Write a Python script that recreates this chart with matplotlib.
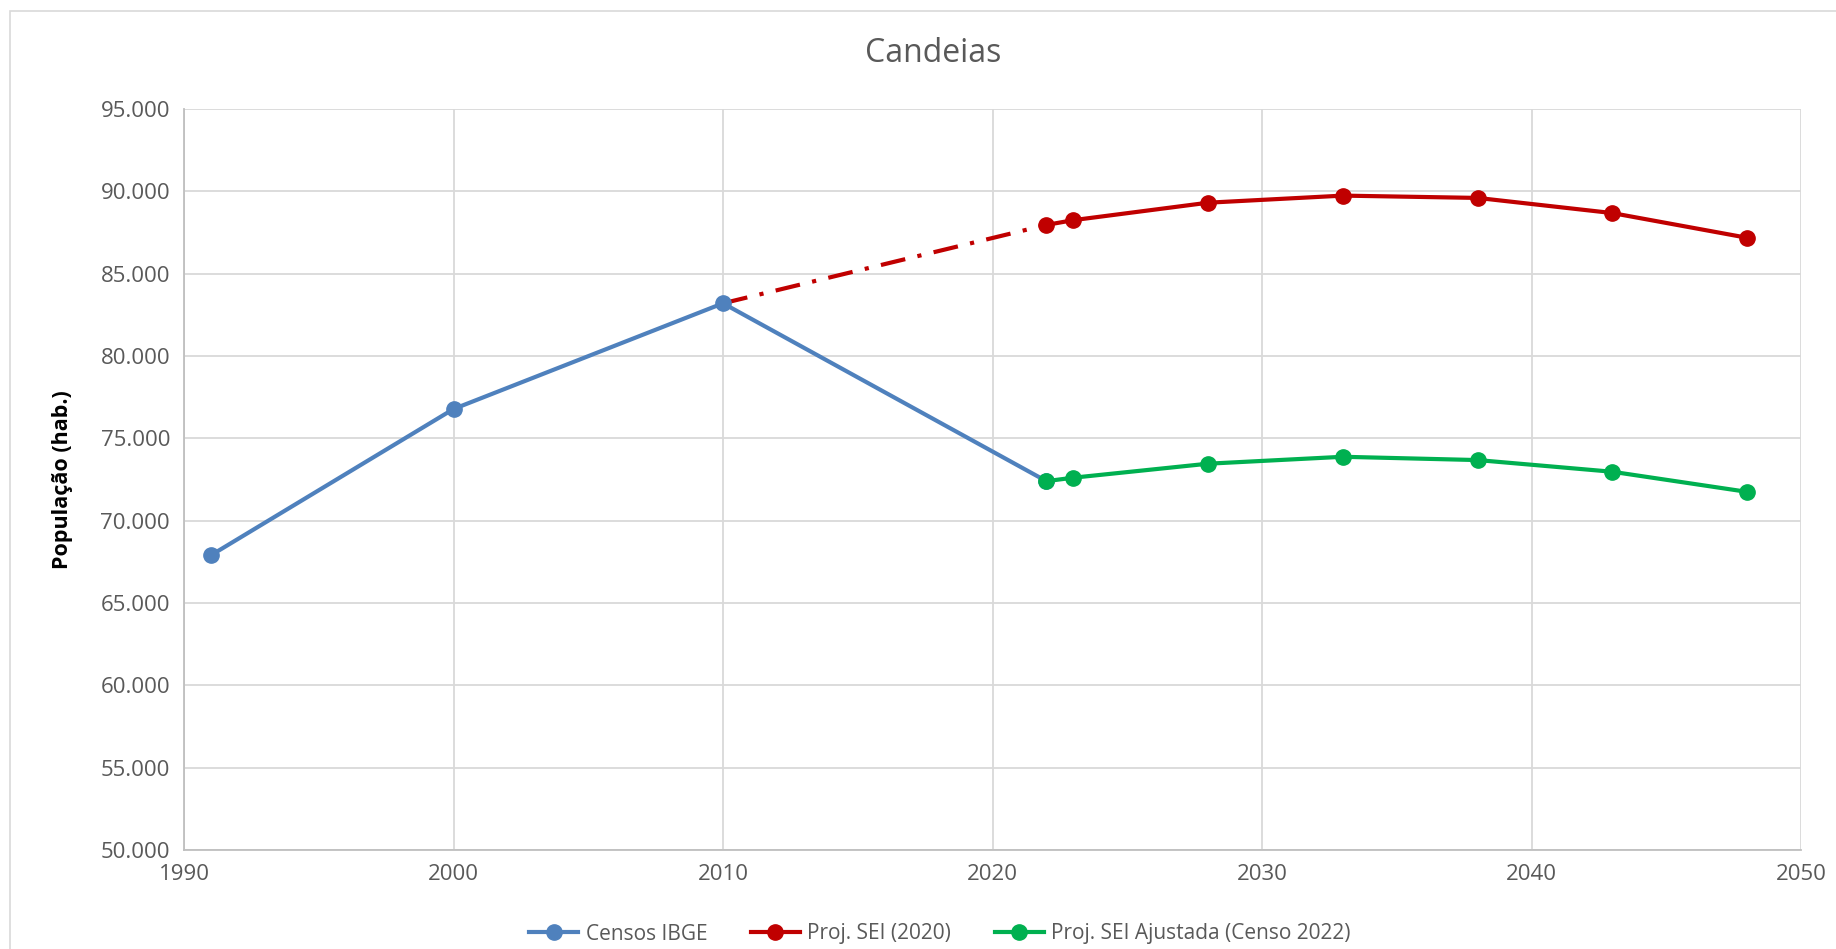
import matplotlib.pyplot as plt
from matplotlib.ticker import FuncFormatter, MultipleLocator
from matplotlib.patches import Rectangle

# data
censos_anos = [1991, 2000, 2010, 2022]
censos_pop = [67900, 76780, 83200, 72400]

proj_anos = [2022, 2023, 2028, 2033, 2038, 2043, 2048]
proj_pop = [87960, 88250, 89310, 89740, 89600, 88680, 87180]

ajust_anos = [2022, 2023, 2028, 2033, 2038, 2043, 2048]
ajust_pop = [72400, 72610, 73460, 73880, 73680, 72970, 71750]

# ligação tracejada entre o censo 2010 e a projeção 2022
ligacao_anos = [2010, 2022]
ligacao_pop = [83200, 87960]

azul = '#4F81BD'
vermelho = '#C00000'
verde = '#00B050'
cinza_txt = '#595959'
cinza_grade = '#D9D9D9'

plt.rcParams['font.family'] = ['Open Sans', 'DejaVu Sans']

fig = plt.figure(figsize=(18.36, 9.49), dpi=100)
W, H = 1836, 949
ax = fig.add_axes([184 / W, 1 - 850 / H, (1801 - 184) / W, (850 - 109) / H])

# moldura da área do gráfico
fig.patches.append(Rectangle((10 / W, -0.1), 1.2, 1 - 11 / H + 0.1,
                             transform=fig.transFigure, fill=False,
                             edgecolor='#D9D9D9', lw=1.2))

ax.plot(ligacao_anos, ligacao_pop, color=vermelho, lw=3,
        dashes=(6, 3, 1, 3), zorder=2)
ax.plot(censos_anos, censos_pop, color=azul, lw=3, marker='o',
        markersize=11, label='Censos IBGE', zorder=3)
ax.plot(proj_anos, proj_pop, color=vermelho, lw=3, marker='o',
        markersize=11, label='Proj. SEI (2020)', zorder=3)
ax.plot(ajust_anos, ajust_pop, color=verde, lw=3, marker='o',
        markersize=11, label='Proj. SEI Ajustada (Censo 2022)', zorder=4)

ax.set_xlim(1990, 2050)
ax.set_ylim(50000, 95000)
ax.xaxis.set_major_locator(MultipleLocator(10))
ax.yaxis.set_major_locator(MultipleLocator(5000))
ax.yaxis.set_major_formatter(FuncFormatter(lambda v, p: f'{int(v):,}'.replace(',', '.')))

ax.grid(True, color=cinza_grade, lw=1.3)
ax.set_axisbelow(True)
for s in ['top', 'right']:
    ax.spines[s].set_visible(False)
for s in ['left', 'bottom']:
    ax.spines[s].set_color('#BFBFBF')
    ax.spines[s].set_linewidth(1.3)
ax.tick_params(length=0, labelsize=16, labelcolor=cinza_txt, pad=10)

ax.set_ylabel('População (hab.)', fontsize=15.5, fontweight='bold',
              color='black', labelpad=20)
fig.text(933 / W, 1 - 54 / H, 'Candeias', fontsize=23, color=cinza_txt,
         ha='center', va='center')

ax.legend(loc='center', bbox_to_anchor=(940 / W, (949 - 934) / H),
          bbox_transform=fig.transFigure, ncol=3, frameon=False,
          fontsize=15, labelcolor=cinza_txt, columnspacing=2.1,
          handlelength=2.35, handletextpad=0.35)

fig.savefig('out.png', dpi=100)
